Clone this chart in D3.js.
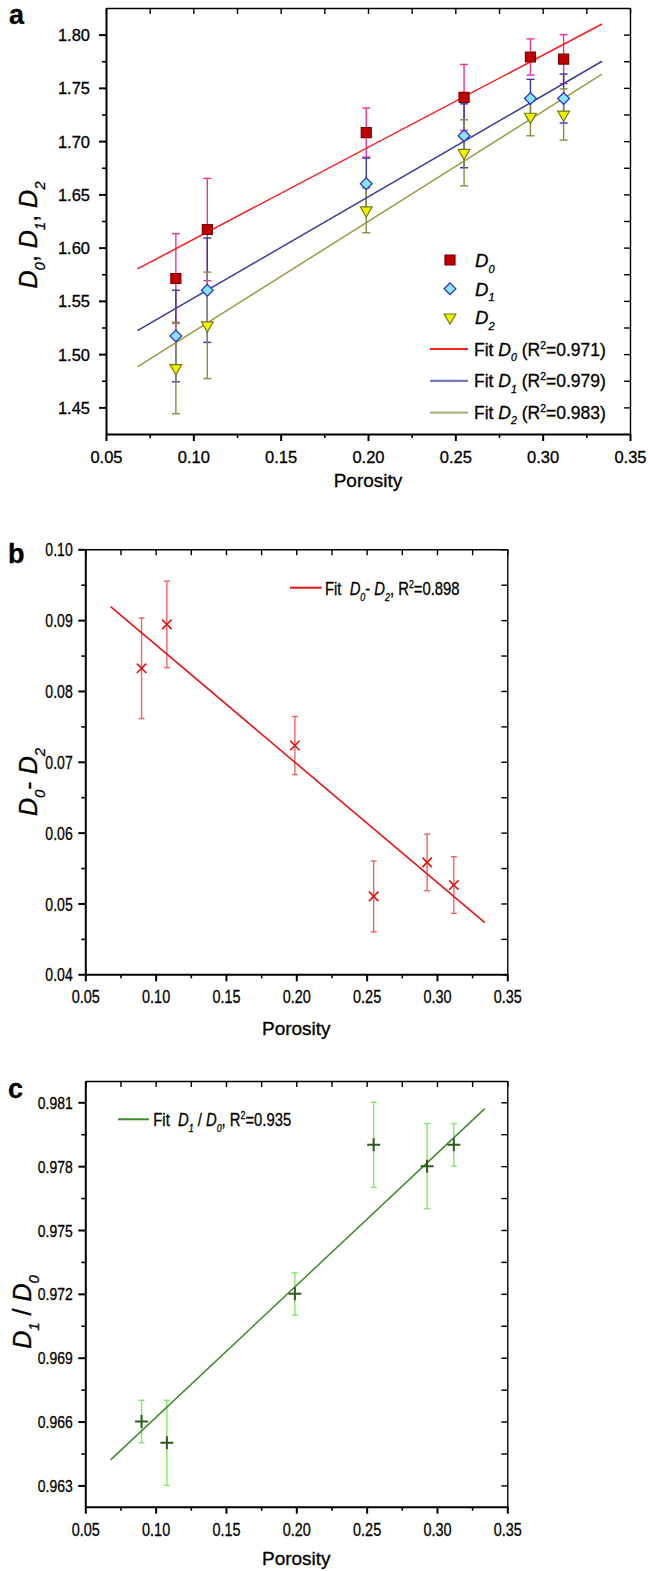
<!DOCTYPE html>
<html>
<head>
<meta charset="utf-8">
<script src="https://cdn.jsdelivr.net/npm/d3@7"></script>
<style>
body { margin: 0; background: #fff; }
svg { display: block; font-family: "Liberation Sans", Arial, sans-serif; }
svg text { stroke: #000; stroke-width: 0.3px; }
</style>
</head>
<body>
<div id="chart"></div>
<script>
// data
var porosity = [0.090, 0.108, 0.199, 0.255, 0.293, 0.312];

var d0 = [1.571, 1.617, 1.708, 1.741, 1.779, 1.777];
var d0Err = [0.042, 0.048, 0.023, 0.031, 0.017, 0.023];
var d1 = [1.517, 1.560, 1.660, 1.705, 1.740, 1.740];
var d1Err = [0.043, 0.049, 0.024, 0.030, 0.018, 0.023];
var d2 = [1.487, 1.527, 1.635, 1.689, 1.723, 1.725];
var d2Err = [0.043, 0.050, 0.021, 0.031, 0.018, 0.024];

var fitX = [0.068, 0.334];
var fitD0 = [1.580, 1.810];
var fitD1 = [1.522, 1.775];
var fitD2 = [1.488, 1.763];

var diff = [0.0832, 0.0894, 0.0723, 0.0510, 0.0558, 0.0526];
var diffErr = [0.0071, 0.0061, 0.0041, 0.0050, 0.0040, 0.0040];
var fitDiff = [0.0919, 0.0473];

var ratio = [0.966, 0.965, 0.972, 0.979, 0.978, 0.979];
var ratioErr = [0.001, 0.002, 0.001, 0.002, 0.002, 0.001];
var fitRatio = [0.9642, 0.9807];

var xDomain = [0.05, 0.35];
var xTicks = [0.05, 0.10, 0.15, 0.20, 0.25, 0.30, 0.35];
var xMinor = [0.075, 0.125, 0.175, 0.225, 0.275, 0.325];

var yTicksA = [1.45, 1.50, 1.55, 1.60, 1.65, 1.70, 1.75, 1.80];
var yMinorA = [1.475, 1.525, 1.575, 1.625, 1.675, 1.725, 1.775];
var yTicksB = [0.04, 0.05, 0.06, 0.07, 0.08, 0.09, 0.10];
var yMinorB = [0.045, 0.055, 0.065, 0.075, 0.085, 0.095];
var yTicksC = [0.963, 0.966, 0.969, 0.972, 0.975, 0.978, 0.981];
var yMinorC = [0.9645, 0.9675, 0.9705, 0.9735, 0.9765, 0.9795];

var svg = d3.select("#chart").append("svg")
    .attr("width", 648)
    .attr("height", 1571);

// text with italic / sub / sup pieces
function rich(t, parts, size) {
    var cur = 0;
    parts.forEach(function (p) {
        var target = p.sub ? size * 0.3 : (p.sup ? -size * 0.4 : 0);
        var ts = t.append("tspan").text(p.t).attr("dy", target - cur);
        cur = target;
        if (p.sub || p.sup) ts.attr("font-size", size * 0.6);
        if (p.i) ts.attr("font-style", "italic");
    });
    return t;
}

function drawPanel(p) {
    var x = d3.scaleLinear().domain(xDomain).range([p.left, p.right]);
    var y = d3.scaleLinear().domain(p.yDomain).range([p.bottom, p.top]);
    var g = svg.append("g");

    function tidy(a, w) {
        a.attr("font-size", null).attr("font-family", null);
        a.select(".domain").attr("stroke-width", w);
        a.selectAll(".tick line").attr("stroke-width", w);
    }

    // bottom axis, labels
    var bx = g.append("g")
        .attr("transform", "translate(0," + p.bottom + ")")
        .call(d3.axisBottom(x).tickValues(xTicks).tickSize(7).tickSizeOuter(0).tickFormat(d3.format(".2f")));
    tidy(bx, 2);
    bx.selectAll("text")
        .attr("y", p.xLabY).attr("dy", null)
        .attr("font-size", p.xFont)
        .attr("transform", "scale(" + p.xSx + ",1)");
    g.append("g").attr("transform", "translate(0," + p.bottom + ")")
        .call(d3.axisBottom(x).tickValues(xMinor).tickSize(4).tickFormat(""))
        .call(function (a) { a.select(".domain").remove(); a.selectAll("line").attr("stroke-width", 1.6); });

    // top axis, ticks inward
    var tx = g.append("g")
        .attr("transform", "translate(0," + p.top + ")")
        .call(d3.axisTop(x).tickValues(xTicks.concat(xMinor)).tickSize(-6).tickSizeOuter(0).tickFormat(""));
    tidy(tx, 1.4);

    // left axis
    var ly = g.append("g")
        .attr("transform", "translate(" + p.left + ",0)")
        .call(d3.axisLeft(y).tickValues(p.yTicks).tickSize(7).tickSizeOuter(0).tickFormat(d3.format(p.yFmt)));
    tidy(ly, 2);
    ly.selectAll("text")
        .attr("x", -p.yLabGap / p.ySx).attr("dy", "0.36em")
        .attr("font-size", p.yFont)
        .attr("transform", "scale(" + p.ySx + ",1)");
    g.append("g").attr("transform", "translate(" + p.left + ",0)")
        .call(d3.axisLeft(y).tickValues(p.yMinor).tickSize(4).tickFormat(""))
        .call(function (a) { a.select(".domain").remove(); a.selectAll("line").attr("stroke-width", 1.6); });

    // right axis, ticks inward
    var ry = g.append("g")
        .attr("transform", "translate(" + p.right + ",0)")
        .call(d3.axisRight(y).tickValues(p.yTicks.concat(p.yMinor)).tickSize(-6).tickSizeOuter(0).tickFormat(""));
    tidy(ry, 1.4);

    // x title
    g.append("text")
        .attr("x", (p.left + p.right) / 2)
        .attr("y", p.bottom + p.titleDy)
        .attr("text-anchor", "middle")
        .attr("font-size", 19)
        .text("Porosity");

    // y title
    var yt = g.append("text")
        .attr("transform", "translate(" + p.yTitleX + "," + p.yTitleY + ") rotate(-90)")
        .attr("text-anchor", "middle")
        .attr("font-size", 25)
        .style("white-space", "pre");
    rich(yt, p.yTitle, 25);

    // panel letter
    g.append("text")
        .attr("x", p.letterX).attr("y", p.letterY)
        .attr("font-size", 27).attr("font-weight", "bold")
        .text(p.letter);

    return { g: g, x: x, y: y };
}

function errorBars(g, x, y, ys, es, color, cap, w) {
    var idx = d3.range(porosity.length);
    var eb = g.append("g").attr("stroke", color).attr("stroke-width", w).attr("fill", "none");
    eb.selectAll("line.v").data(idx).join("line").attr("class", "v")
        .attr("x1", function (i) { return x(porosity[i]); })
        .attr("x2", function (i) { return x(porosity[i]); })
        .attr("y1", function (i) { return y(ys[i] - es[i]); })
        .attr("y2", function (i) { return y(ys[i] + es[i]); });
    [-1, 1].forEach(function (s) {
        eb.selectAll("line.c" + (s + 1)).data(idx).join("line").attr("class", "c" + (s + 1))
            .attr("x1", function (i) { return x(porosity[i]) - cap / 2; })
            .attr("x2", function (i) { return x(porosity[i]) + cap / 2; })
            .attr("y1", function (i) { return y(ys[i] + s * es[i]); })
            .attr("y2", function (i) { return y(ys[i] + s * es[i]); });
    });
}

function fitLine(g, x, y, ys, color, w) {
    g.append("path")
        .datum(d3.zip(fitX, ys))
        .attr("fill", "none")
        .attr("stroke", color)
        .attr("stroke-width", w)
        .attr("d", d3.line().x(function (d) { return x(d[0]); }).y(function (d) { return y(d[1]); }));
}

// ---------- panel a ----------
var pa = drawPanel({
    left: 106, right: 630, top: 8, bottom: 434,
    yDomain: [1.425, 1.825], yTicks: yTicksA, yMinor: yMinorA, yFmt: ".2f",
    xFont: 16.5, xSx: 1, xLabY: 28.5,
    yFont: 16.5, ySx: 1, yLabGap: 16,
    titleDy: 53,
    yTitleX: 37, yTitleY: 235,
    yTitle: [{t: "D", i: 1}, {t: "0", i: 1, sub: 1}, {t: ", "}, {t: "D", i: 1}, {t: "1", i: 1, sub: 1}, {t: ", "}, {t: "D", i: 1}, {t: "2", i: 1, sub: 1}],
    letter: "a", letterX: 9, letterY: 24
});

var series = [
    {v: d0, e: d0Err, fit: fitD0, bar: "#ee3399", fill: "#c00000", stroke: "#7a0000", line: "#ff1a1a", legLine: "#ff2020",
        shape: d3.symbolSquare, size: 100, rot: 0, name: "0", r2: "0.971"},
    {v: d1, e: d1Err, fit: fitD1, bar: "#3535b0", fill: "#88e6f2", stroke: "#2a2ad0", line: "#3c3ca0", legLine: "#7878c8",
        shape: d3.symbolSquare, size: 70, rot: 45, name: "1", r2: "0.979"},
    {v: d2, e: d2Err, fit: fitD2, bar: "#8c8c3a", fill: "#f2f200", stroke: "#77771c", line: "#9a9a40", legLine: "#b0b088",
        shape: d3.symbolTriangle, size: 60, rot: 180, name: "2", r2: "0.983"}
];

series.forEach(function (s) { errorBars(pa.g, pa.x, pa.y, s.v, s.e, s.bar, 8, 1.4); });
series.forEach(function (s) { fitLine(pa.g, pa.x, pa.y, s.fit, s.line, 1.5); });
series.forEach(function (s) {
    pa.g.append("g").selectAll("path").data(s.v).join("path")
        .attr("d", d3.symbol().type(s.shape).size(s.size))
        .attr("transform", function (d, i) {
            return "translate(" + pa.x(porosity[i]) + "," + pa.y(d) + ") rotate(" + s.rot + ")";
        })
        .attr("fill", s.fill)
        .attr("stroke", s.stroke)
        .attr("stroke-width", 1.2);
});

// legend a
var legA = pa.g.append("g");
series.forEach(function (s, i) {
    var yy = 260 + i * 28.7;
    legA.append("path")
        .attr("d", d3.symbol().type(s.shape).size(s.size))
        .attr("transform", "translate(450," + yy + ") rotate(" + s.rot + ")")
        .attr("fill", s.fill).attr("stroke", s.stroke).attr("stroke-width", 1.2);
    rich(legA.append("text").attr("x", 475).attr("y", yy + 7).attr("font-size", 18.5),
        [{t: "D", i: 1}, {t: s.name, i: 1, sub: 1}], 18.5);
});
series.forEach(function (s, i) {
    var yy = 349 + i * 31.8;
    legA.append("line")
        .attr("x1", 430).attr("x2", 468).attr("y1", yy).attr("y2", yy)
        .attr("stroke", s.legLine).attr("stroke-width", 2.2);
    rich(legA.append("text").attr("x", 474).attr("y", yy + 6.5).attr("font-size", 17.5).style("white-space", "pre"),
        [{t: "Fit "}, {t: "D", i: 1}, {t: s.name, i: 1, sub: 1}, {t: " (R"}, {t: "2", sup: 1}, {t: "=" + s.r2 + ")"}], 17.5);
});

// ---------- panel b ----------
var pb = drawPanel({
    left: 85.3, right: 507.3, top: 549.3, bottom: 974.3,
    yDomain: [0.04, 0.10], yTicks: yTicksB, yMinor: yMinorB, yFmt: ".2f",
    xFont: 18.5, xSx: 0.78, xLabY: 29,
    yFont: 18.5, ySx: 0.76, yLabGap: 12.6,
    titleDy: 61,
    yTitleX: 37, yTitleY: 782,
    yTitle: [{t: "D", i: 1}, {t: "0", i: 1, sub: 1}, {t: "- "}, {t: "D", i: 1}, {t: "2", i: 1, sub: 1}],
    letter: "b", letterX: 8, letterY: 563
});

errorBars(pb.g, pb.x, pb.y, diff, diffErr, "#f06464", 6, 1.4);
fitLine(pb.g, pb.x, pb.y, fitDiff, "#e81414", 1.6);
pb.g.append("g").selectAll("path").data(diff).join("path")
    .attr("d", d3.symbol().type(d3.symbolX).size(60))
    .attr("transform", function (d, i) { return "translate(" + pb.x(porosity[i]) + "," + pb.y(d) + ")"; })
    .attr("fill", "none").attr("stroke", "#dd1111").attr("stroke-width", 1.6);

pb.g.append("line").attr("x1", 290).attr("x2", 321.7).attr("y1", 587.7).attr("y2", 587.7)
    .attr("stroke", "#e81414").attr("stroke-width", 2);
rich(pb.g.append("text").attr("transform", "translate(325,595) scale(0.8,1)").attr("font-size", 18.5).style("white-space", "pre"),
    [{t: "Fit  "}, {t: "D", i: 1}, {t: "0", i: 1, sub: 1}, {t: "- "}, {t: "D", i: 1}, {t: "2", i: 1, sub: 1}, {t: ", R"}, {t: "2", sup: 1}, {t: "=0.898"}], 18.5);

// ---------- panel c ----------
var pc = drawPanel({
    left: 85.3, right: 507.3, top: 1081, bottom: 1506.7,
    yDomain: [0.962, 0.982], yTicks: yTicksC, yMinor: yMinorC, yFmt: ".3f",
    xFont: 18.5, xSx: 0.78, xLabY: 29,
    yFont: 17, ySx: 0.82, yLabGap: 12.6,
    titleDy: 58,
    yTitleX: 31, yTitleY: 1312,
    yTitle: [{t: "D", i: 1}, {t: "1", i: 1, sub: 1}, {t: " / "}, {t: "D", i: 1}, {t: "0", i: 1, sub: 1}],
    letter: "c", letterX: 8, letterY: 1098
});

errorBars(pc.g, pc.x, pc.y, ratio, ratioErr, "#84e864", 6, 1.4);
fitLine(pc.g, pc.x, pc.y, fitRatio, "#3d8a2a", 1.5);
pc.g.append("g").selectAll("path").data(ratio).join("path")
    .attr("d", d3.symbol().type({
        draw: function (ctx) { ctx.moveTo(-6.5, 0); ctx.lineTo(6.5, 0); ctx.moveTo(0, -6.5); ctx.lineTo(0, 6.5); }
    }))
    .attr("transform", function (d, i) { return "translate(" + pc.x(porosity[i]) + "," + pc.y(d) + ")"; })
    .attr("fill", "none").attr("stroke", "#2d5a1e").attr("stroke-width", 2);

pc.g.append("line").attr("x1", 118).attr("x2", 149).attr("y1", 1119.3).attr("y2", 1119.3)
    .attr("stroke", "#3d8a2a").attr("stroke-width", 2);
rich(pc.g.append("text").attr("transform", "translate(153.3,1126) scale(0.8,1)").attr("font-size", 18.5).style("white-space", "pre"),
    [{t: "Fit  "}, {t: "D", i: 1}, {t: "1", i: 1, sub: 1}, {t: " / "}, {t: "D", i: 1}, {t: "0", i: 1, sub: 1}, {t: ", R"}, {t: "2", sup: 1}, {t: "=0.935"}], 18.5);
</script>
</body>
</html>
